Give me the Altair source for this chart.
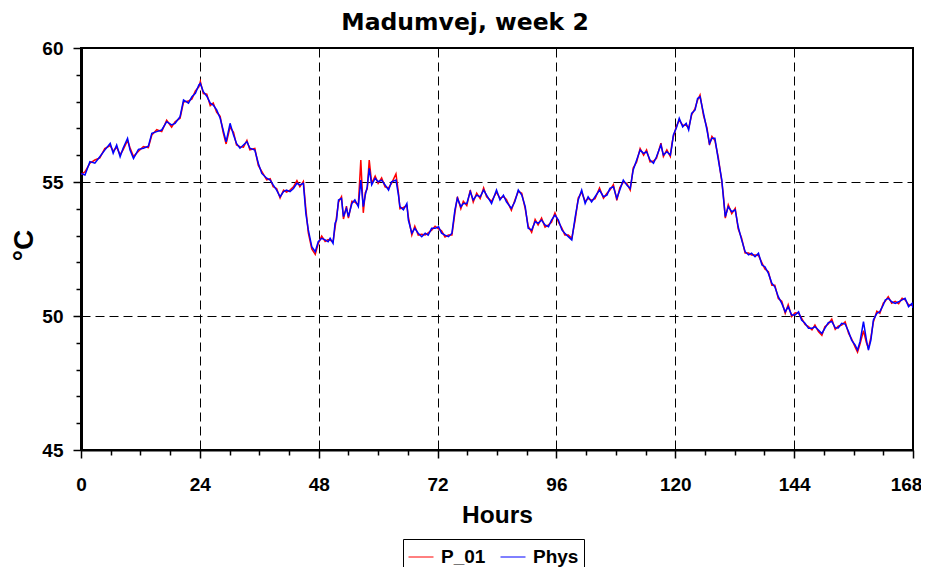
import altair as alt
import pandas as pd

TITLE = "Madumvej, week 2"
SERIES = ["P_01", "Phys"]
COLORS = ["#ff0000", "#0000ff"]
X_TICKS = list(range(0, 169, 6))
Y_TICKS = list(range(45, 61))

hours = [
    0.0, 0.8, 1.8, 2.8, 3.8, 4.8, 5.9, 6.5, 7.2, 7.9, 8.5, 9.4, 9.9, 10.6, 11.6, 12.6, 13.6, 14.3, 15.3, 16.3,
    17.3, 18.3, 19.0, 20.0, 20.7, 21.7, 22.4, 23.1, 23.8, 24.1, 24.7, 25.4, 26.1, 26.7, 27.4, 28.1, 28.7, 29.3,
    30.1, 30.8, 31.4, 32.1, 32.8, 33.5, 34.1, 35.1, 35.8, 36.5, 37.5, 38.2, 38.8, 39.5, 40.2, 40.9, 41.5, 42.2,
    42.9, 43.6, 44.2, 44.9, 45.4, 45.9, 46.6, 47.3, 47.9, 48.6, 49.3, 49.9, 50.3, 50.9, 51.3, 51.6, 52.0, 52.6,
    53.0, 53.6, 54.0, 54.7, 55.3, 56.0, 56.5, 57.0, 57.4, 57.8, 58.2, 58.7, 59.4, 60.0, 60.7, 61.4, 62.1, 62.7,
    63.6, 64.1, 64.4, 65.1, 65.8, 66.1, 66.8, 67.4, 68.1, 68.8, 69.5, 70.1, 70.8, 71.5, 72.2, 72.8, 73.5, 74.2,
    74.9, 75.5, 76.0, 76.7, 77.2, 77.9, 78.6, 79.2, 79.9, 80.6, 81.3, 81.9, 82.9, 83.9, 84.6, 85.3, 85.9, 86.9,
    87.6, 88.3, 89.0, 89.7, 90.3, 91.0, 91.7, 92.3, 93.0, 93.7, 94.4, 95.0, 95.7, 96.4, 97.1, 97.7, 98.4, 99.1,
    99.8, 100.4, 101.1, 101.8, 102.4, 103.1, 103.8, 104.7, 105.5, 106.2, 106.8, 107.5, 108.2, 108.8, 109.5,
    110.2, 110.9, 111.5, 112.2, 112.9, 113.6, 114.2, 114.9, 115.6, 116.2, 117.1, 117.6, 118.3, 119.0, 119.3,
    119.6, 120.3, 120.8, 121.5, 122.2, 122.7, 123.3, 124.0, 124.5, 125.0, 125.7, 126.4, 126.9, 127.4, 128.0,
    128.7, 129.4, 129.7, 130.1, 130.7, 131.4, 132.1, 132.7, 133.4, 134.1, 134.8, 135.4, 136.1, 136.8, 137.5,
    138.1, 138.8, 139.5, 140.1, 140.8, 141.5, 142.2, 142.8, 143.5, 144.2, 144.9, 145.5, 146.2, 146.9, 147.6,
    148.2, 148.9, 149.6, 150.2, 150.9, 151.6, 152.3, 152.9, 153.6, 154.3, 155.0, 155.6, 156.3, 156.8, 157.3,
    158.0, 158.6, 159.0, 159.5, 160.0, 160.7, 161.3, 162.0, 162.4, 163.0, 163.7, 164.4, 165.1, 165.8, 166.4,
    167.1, 167.8, 168.0,
]

phys = [
    55.32, 55.26, 55.76, 55.70, 55.94, 56.19, 56.44, 56.07, 56.38, 55.94, 56.26, 56.63, 56.19, 55.88, 56.22, 56.26, 56.34, 56.82, 56.88, 56.94,
    57.25, 57.13, 57.19, 57.44, 58.06, 57.94, 58.18, 58.31, 58.62, 58.68, 58.37, 58.20, 57.94, 57.87, 57.69, 57.38, 56.94, 56.50,
    57.19, 56.75, 56.44, 56.26, 56.38, 56.50, 56.26, 56.19, 55.70, 55.32, 55.14, 55.07, 54.89, 54.70, 54.45, 54.64, 54.70, 54.64,
    54.76, 54.95, 54.89, 54.95, 53.83, 53.21, 52.59, 52.40, 52.77, 52.90, 52.84, 52.77, 52.90, 52.71, 53.46, 53.58, 54.33, 54.39,
    53.71, 54.02, 53.71, 54.20, 54.33, 54.08, 55.07, 54.08, 54.51, 54.82, 55.51, 54.89, 55.14, 55.01, 55.07, 54.89, 54.70, 55.01,
    55.07, 54.51, 54.08, 53.96, 54.20, 53.58, 53.09, 53.27, 53.09, 52.96, 53.09, 53.02, 53.27, 53.27, 53.33, 53.09, 53.02, 52.96,
    53.09, 53.96, 54.39, 54.08, 54.20, 54.20, 54.64, 54.33, 54.51, 54.45, 54.70, 54.51, 54.20, 54.70, 54.33, 54.51, 54.26, 54.02,
    54.26, 54.70, 54.51, 54.08, 53.27, 53.21, 53.52, 53.46, 53.58, 53.40, 53.33, 53.58, 53.77, 53.58, 53.21, 53.09, 52.96, 52.84,
    53.71, 54.33, 54.70, 54.20, 54.45, 54.26, 54.45, 54.70, 54.45, 54.51, 54.76, 54.82, 54.39, 54.70, 55.07,
    54.89, 54.76, 55.45, 55.82, 56.19, 56.07, 56.13, 55.82, 55.70, 55.94, 56.38, 56.01, 56.13, 56.01, 56.32,
    56.75, 57.06, 57.38, 57.06, 57.19, 56.94, 57.56, 57.69, 58.12, 58.18, 57.56, 56.94, 56.44, 56.63, 56.63,
    55.82, 55.07, 54.45, 53.71, 54.08, 53.89, 53.96, 53.33, 52.84, 52.40, 52.28, 52.34, 52.21, 52.34, 51.90,
    51.84, 51.59, 51.22, 51.09, 50.72, 50.47, 50.16, 50.35, 50.04, 50.04, 50.16, 49.85, 49.73, 49.54, 49.54,
    49.60, 49.48, 49.35, 49.54, 49.75, 49.80, 49.56, 49.55, 49.73, 49.70, 49.41, 49.10, 48.92, 48.73, 49.04,
    49.79, 49.10, 48.73, 49.10, 49.85, 50.10, 50.16, 50.41, 50.60, 50.66, 50.53, 50.47, 50.53, 50.60, 50.66,
    50.35, 50.47, 50.30,
]

p01 = [
    55.28, 55.38, 55.70, 55.82, 55.90, 56.25, 56.36, 56.15, 56.30, 56.02, 56.20, 56.55, 56.28, 55.95, 56.15, 56.32, 56.28, 56.75, 56.95, 56.88,
    57.30, 57.05, 57.25, 57.38, 57.98, 58.02, 58.10, 58.40, 58.55, 58.75, 58.30, 58.28, 57.85, 57.95, 57.60, 57.45, 56.85, 56.42,
    57.05, 56.85, 56.38, 56.32, 56.30, 56.55, 56.20, 56.25, 55.62, 55.40, 55.08, 55.12, 54.82, 54.76, 54.40, 54.70, 54.62, 54.70,
    54.82, 55.05, 54.82, 55.02, 54.00, 53.10, 52.50, 52.30, 52.70, 52.98, 52.78, 52.85, 52.82, 52.78, 53.30, 53.70, 54.25, 54.45,
    53.62, 54.10, 53.65, 54.28, 54.25, 54.15, 55.82, 53.85, 54.60, 54.75, 55.82, 54.95, 55.22, 54.95, 55.15, 54.82, 54.78, 54.95,
    55.30, 54.60, 54.00, 54.05, 54.12, 53.70, 53.02, 53.35, 53.02, 53.05, 53.02, 53.10, 53.20, 53.35, 53.25, 53.18, 52.95, 53.02,
    53.02, 53.85, 54.45, 54.00, 54.28, 54.12, 54.70, 54.25, 54.58, 54.38, 54.78, 54.45, 54.28, 54.62, 54.40, 54.45, 54.35, 53.95,
    54.32, 54.65, 54.58, 54.00, 53.35, 53.12, 53.60, 53.40, 53.65, 53.32, 53.40, 53.50, 53.85, 53.50, 53.28, 53.02, 53.02, 52.90,
    53.60, 54.40, 54.62, 54.28, 54.38, 54.32, 54.38, 54.78, 54.40, 54.58, 54.70, 54.90, 54.32, 54.78, 55.00,
    54.95, 54.70, 55.52, 55.75, 56.25, 56.00, 56.20, 55.75, 55.78, 55.88, 56.45, 55.95, 56.20, 55.95, 56.40,
    56.68, 57.12, 57.30, 57.12, 57.12, 57.02, 57.50, 57.75, 58.05, 58.25, 57.48, 57.02, 56.38, 56.70, 56.55,
    55.90, 55.00, 54.52, 53.65, 54.15, 53.82, 54.02, 53.25, 52.90, 52.35, 52.35, 52.28, 52.28, 52.26, 51.98,
    51.75, 51.65, 51.15, 51.15, 50.65, 50.55, 50.10, 50.42, 49.98, 50.12, 50.10, 49.92, 49.68, 49.60, 49.48,
    49.66, 49.42, 49.28, 49.60, 49.70, 49.88, 49.50, 49.62, 49.66, 49.78, 49.35, 49.15, 48.85, 48.65, 48.95,
    49.45, 49.00, 48.80, 49.20, 49.78, 50.18, 50.10, 50.48, 50.55, 50.72, 50.48, 50.55, 50.46, 50.66, 50.60,
    50.42, 50.40, 50.35,
]

n = min(len(hours), len(phys), len(p01))
df = pd.DataFrame({
    "Hours": hours[:n] + hours[:n],
    "T": p01[:n] + phys[:n],
    "series": [SERIES[0]] * n + [SERIES[1]] * n,
})

FONT = "Liberation Sans"

x_axis = alt.Axis(
    values=X_TICKS,
    labelExpr="datum.value % 24 === 0 ? datum.label : ''",
    title="Hours", titleFont=FONT, titleFontSize=24.5, titleFontWeight="bold", titleColor="black",
    titleY=72, titleBaseline="alphabetic",
    labelFont=FONT, labelFontSize=19, labelFontWeight="bold", labelColor="black",
    labelPadding=32, labelBaseline="alphabetic", labelFlush=False, labelOverlap=False,
    labelOffset={"condition": {"test": "datum.value >= 168", "value": -7}, "value": 0},
    tickSize=8, tickColor="black", tickWidth=1.5,
    tickDash={"condition": {"test": "datum.value % 24 !== 0", "value": [5, 30]}, "value": [10, 0]},
    grid=True, gridColor="black", gridWidth=1, gridDash=[9, 5],
    gridOpacity={"condition": {"test": "datum.value % 24 === 0", "value": 1}, "value": 0},
    domainColor="black", domainWidth=2,
)

y_axis = alt.Axis(
    values=Y_TICKS,
    labelExpr="datum.value % 5 === 0 ? datum.label : ''",
    title="°C", titleFont=FONT, titleFontSize=28, titleFontWeight="bold", titleColor="black",
    titleX=-57, titleY=197, titleAngle=270, titleAlign="center", titleBaseline="middle",
    labelFont=FONT, labelFontSize=19, labelFontWeight="bold", labelColor="black",
    labelPadding=10, labelBaseline="middle", labelFlush=False, labelOverlap=False,
    tickSize=8, tickColor="black", tickWidth=1.5,
    tickDash={"condition": {"test": "datum.value % 5 !== 0", "value": [5, 30]}, "value": [10, 0]},
    grid=True, gridColor="black", gridWidth=1, gridDash=[9, 5],
    gridOpacity={"condition": {"test": "datum.value % 5 === 0", "value": 1}, "value": 0},
    domainColor="black", domainWidth=3,
)

legend = alt.Legend(
    title=None, orient="none", legendX=322, legendY=491, direction="horizontal",
    symbolType="stroke", symbolSize=625, symbolStrokeWidth=1,
    labelFont=FONT, labelFontSize=19, labelFontWeight="bold", labelColor="black",
    labelOffset=7, columnPadding=12, padding=5,
    strokeColor="black", fillColor="white",
)

chart = alt.Chart(
    df,
    title=alt.TitleParams(TITLE, font="DejaVu Sans", fontSize=23.5, fontWeight="bold", color="black",
                          anchor="middle", offset=5, dx=-32),
).mark_line(strokeWidth=1.5, clip=True).encode(
    x=alt.X("Hours:Q", scale=alt.Scale(domain=[0, 168], nice=False, zero=False), axis=x_axis),
    y=alt.Y("T:Q", scale=alt.Scale(domain=[45, 60], nice=False, zero=False), axis=y_axis),
    color=alt.Color("series:N", scale=alt.Scale(domain=SERIES, range=COLORS), legend=legend),
).properties(
    width=832, height=402,
    padding={"left": 73, "top": 40, "right": 8, "bottom": 117},
    autosize=alt.AutoSizeParams(type="none"),
).configure(background="white").configure_view(stroke="black", strokeWidth=2)

chart.save("out.html", embed_options={"renderer": "svg", "actions": False})
